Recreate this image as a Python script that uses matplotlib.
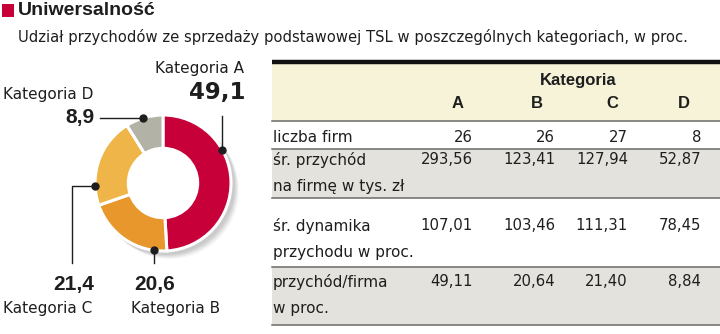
import numpy as np
import matplotlib
matplotlib.use("Agg")
import matplotlib.pyplot as plt
from matplotlib.patches import Rectangle, Circle

# ---------------- data ----------------
categories = ["A", "B", "C", "D"]
shares = [49.1, 20.6, 21.4, 8.9]
share_labels = ["49,1", "20,6", "21,4", "8,9"]
cat_names = ["Kategoria A", "Kategoria B", "Kategoria C", "Kategoria D"]

row_labels = ["liczba firm", "śr. przychód\nna firmę w tys. zł",
              "śr. dynamika\nprzychodu w proc.", "przychód/firma\nw proc."]
row_liczba = ["26", "26", "27", "8"]
row_przychod = ["293,56", "123,41", "127,94", "52,87"]
row_dynamika = ["107,01", "103,46", "111,31", "78,45"]
row_udzial = ["49,11", "20,64", "21,40", "8,84"]

title = "Uniwersalność"
subtitle = "Udział przychodów ze sprzedaży podstawowej TSL w poszczególnych kategoriach, w proc."

colors = ["#C8003A", "#E8972C", "#F0B548", "#B2B3A6"]

# ---------------- fonts ----------------
plt.rcParams["font.family"] = ["DejaVu Sans"]
BOLD = ["Liberation Sans", "DejaVu Sans"]

W, H = 720, 334
fig = plt.figure(figsize=(W / 100, H / 100), dpi=100)
ax = fig.add_axes([0, 0, 1, 1])

def Y(y):
    return H - y

txt = "#1e1e1e"

# ---------------- header ----------------
ax.add_patch(Rectangle((2, Y(17)), 12, 13, color="#C8003A", lw=0))
ax.text(18, Y(10.5), title, fontsize=14, fontweight="bold", family=BOLD, color=txt, va="center", ha="left")
ax.text(18, Y(37), subtitle, fontsize=10.65, color=txt, va="center", ha="left")

# ---------------- donut ----------------
cx, cy, R = 163, Y(183), 68
# soft shadow
for i, a in enumerate([0.05, 0.05, 0.045, 0.04, 0.03]):
    ax.add_patch(Circle((cx + 3 + i, cy - 3 - i), R + 1, color="black", alpha=a, lw=0, zorder=1))
ax.add_patch(Circle((cx, cy), R * 0.51, color="white", lw=0, zorder=1.5))
wedges, _ = ax.pie(shares, colors=colors, startangle=90, counterclock=False,
                   center=(cx, cy), radius=R, frame=True,
                   wedgeprops=dict(width=R * 0.49, edgecolor="white", linewidth=2.2))
for w in wedges:
    w.set_zorder(2)
ax.set_xlim(0, W)
ax.set_ylim(0, H)
ax.set_aspect("equal")
ax.axis("off")

def dot_at(angle_deg):
    t = np.deg2rad(angle_deg)
    return cx + R * np.cos(t), cy + R * np.sin(t)

lc = "#1e1e1e"
# A
ax_, ay_ = dot_at(29)
ax.plot([ax_, ax_], [ay_, Y(116)], color=lc, lw=1, zorder=3)
ax.plot(ax_, ay_, "o", color=lc, ms=5, zorder=4)
ax.text(244, Y(68), cat_names[0], fontsize=11, color=txt, ha="right", va="center")
ax.text(245, Y(92), share_labels[0], fontsize=16.5, fontweight="bold", color=txt, ha="right", va="center")
# D
dx_, dy_ = dot_at(107)
ax.plot([dx_, 100], [dy_, dy_], color=lc, lw=1, zorder=3)
ax.plot(dx_, dy_, "o", color=lc, ms=5, zorder=4)
ax.text(3, Y(95), cat_names[3], fontsize=11, color=txt, ha="left", va="center")
ax.text(94, Y(117), share_labels[3], fontsize=15, fontweight="bold", family=BOLD, color=txt, ha="right", va="center")
# C
c_x, c_y = dot_at(182.5)
ax.plot([c_x, 72, 72], [c_y, c_y, Y(263)], color=lc, lw=1, zorder=3)
ax.plot(c_x, c_y, "o", color=lc, ms=5, zorder=4)
ax.text(94, Y(284.5), share_labels[2], fontsize=15, fontweight="bold", family=BOLD, color=txt, ha="right", va="center")
ax.text(3, Y(308), cat_names[2], fontsize=11, color=txt, ha="left", va="center")
# B
b_x, b_y = dot_at(262)
ax.plot([b_x, b_x], [b_y, Y(263)], color=lc, lw=1, zorder=3)
ax.plot(b_x, b_y, "o", color=lc, ms=5, zorder=4)
ax.text(155, Y(284.5), share_labels[1], fontsize=15, fontweight="bold", family=BOLD, color=txt, ha="center", va="center")
ax.text(176, Y(308), cat_names[1], fontsize=11, color=txt, ha="center", va="center")

# ---------------- table ----------------
x0, x1 = 272, 720
ax.add_patch(Rectangle((x0, Y(121)), x1 - x0, 59, color="#F6F3D8", lw=0))
ax.plot([x0, x1], [Y(62), Y(62)], color="#111111", lw=3.2, solid_capstyle="butt")
ax.text(578, Y(81), "Kategoria", fontsize=12, fontweight="bold", family=BOLD, color=txt, ha="center", va="center")
col_right = [473, 555, 628, 701]
col_center = [458, 537, 612, 684]
for c, xc in zip(categories, col_center):
    ax.text(xc, Y(104), c, fontsize=12, fontweight="bold", family=BOLD, color=txt, ha="center", va="center")

row_bounds = [(121, 149), (149, 198), (198, 267), (267, 325)]
row_bg = ["white", "#E3E2DC", "white", "#E3E2DC"]
rows = [row_liczba, row_przychod, row_dynamika, row_udzial]
first_line_y = [137, 160, 226, 282]
line_gap = 26
for (top, bot), bg, lab, vals, fy in zip(row_bounds, row_bg, row_labels, rows, first_line_y):
    ax.add_patch(Rectangle((x0, Y(bot)), x1 - x0, bot - top, color=bg, lw=0))
    for k, line in enumerate(lab.split("\n")):
        ax.text(273, Y(fy + k * line_gap), line, fontsize=11, color=txt, ha="left", va="center")
    for v, xr in zip(vals, col_right):
        ax.text(xr, Y(fy), v, fontsize=10.7, color=txt, ha="right", va="center")
for yb in [121, 149, 198, 267, 325]:
    ax.plot([x0, x1], [Y(yb), Y(yb)], color="#6a6a6a", lw=1.1, zorder=5)

fig.savefig("out.png", dpi=100, facecolor="white")
